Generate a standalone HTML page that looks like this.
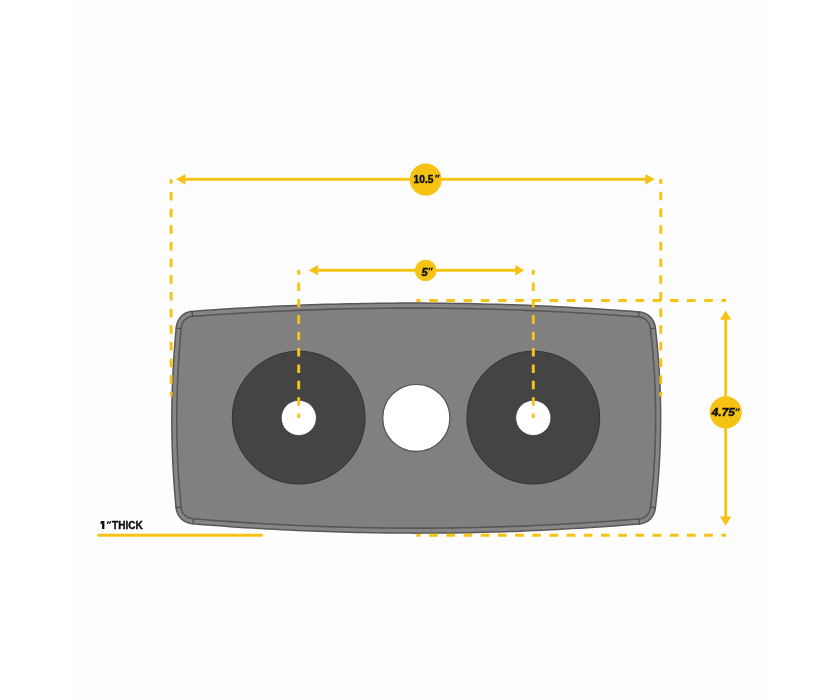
<!DOCTYPE html>
<html><head><meta charset="utf-8">
<style>
html,body{margin:0;padding:0;background:#fff;}
body{width:835px;height:700px;overflow:hidden;position:relative;}
svg{position:absolute;left:0;top:0;}
text{font-family:"Liberation Sans",sans-serif;font-weight:bold;fill:#111;stroke:#111;stroke-width:0.45px;}
</style></head><body>
<svg width="835" height="700" viewBox="0 0 835 700">
<rect x="0" y="0" width="835" height="700" fill="#ffffff"/>
<rect x="70" y="0" width="696" height="700" fill="#fdfdfd"/>
<!-- shape -->
<path d="M192.05,311.40 L199.49,310.85 L206.94,310.31 L214.39,309.80 L221.84,309.30 L229.29,308.83 L236.74,308.37 L244.18,307.93 L251.63,307.51 L259.08,307.11 L266.53,306.73 L273.98,306.37 L281.43,306.03 L288.88,305.70 L296.32,305.40 L303.77,305.11 L311.22,304.84 L318.67,304.60 L326.12,304.37 L333.57,304.16 L341.01,303.97 L348.46,303.79 L355.91,303.64 L363.36,303.51 L370.81,303.39 L378.26,303.30 L385.71,303.22 L393.15,303.16 L400.60,303.12 L408.05,303.10 L415.50,303.10 L422.95,303.12 L430.40,303.15 L437.84,303.21 L445.29,303.29 L452.74,303.38 L460.19,303.49 L467.64,303.62 L475.09,303.77 L482.54,303.94 L489.98,304.13 L497.43,304.34 L504.88,304.57 L512.33,304.81 L519.78,305.08 L527.23,305.36 L534.67,305.66 L542.12,305.99 L549.57,306.33 L557.02,306.69 L564.47,307.07 L571.92,307.46 L579.37,307.88 L586.81,308.32 L594.26,308.77 L601.71,309.24 L609.16,309.74 L616.61,310.25 L624.06,310.78 L631.51,311.33 L638.95,311.90 L640.63,312.10 L642.24,312.43 L643.77,312.88 L645.23,313.45 L646.60,314.13 L647.89,314.93 L649.09,315.83 L650.20,316.84 L651.21,317.94 L652.13,319.13 L652.95,320.42 L653.66,321.79 L654.27,323.25 L654.76,324.78 L655.14,326.39 L655.40,328.08 L655.75,331.07 L656.08,334.06 L656.40,337.06 L656.71,340.06 L657.01,343.06 L657.29,346.05 L657.57,349.05 L657.83,352.05 L658.08,355.04 L658.32,358.04 L658.55,361.04 L658.76,364.03 L658.97,367.03 L659.16,370.03 L659.34,373.02 L659.51,376.02 L659.66,379.01 L659.81,382.01 L659.94,385.01 L660.07,388.00 L660.18,391.00 L660.28,393.99 L660.36,396.99 L660.44,399.98 L660.50,402.98 L660.56,405.97 L660.60,408.97 L660.63,411.96 L660.64,414.96 L660.65,417.95 L660.64,420.94 L660.63,423.94 L660.60,426.93 L660.56,429.93 L660.50,432.92 L660.44,435.91 L660.36,438.91 L660.28,441.90 L660.18,444.89 L660.07,447.89 L659.94,450.88 L659.81,453.87 L659.66,456.87 L659.51,459.86 L659.34,462.85 L659.16,465.85 L658.97,468.84 L658.76,471.83 L658.55,474.82 L658.32,477.81 L658.08,480.81 L657.83,483.80 L657.57,486.79 L657.29,489.78 L657.01,492.77 L656.71,495.77 L656.40,498.76 L656.08,501.75 L655.75,504.74 L655.40,507.72 L655.15,509.39 L654.78,510.98 L654.31,512.50 L653.72,513.95 L653.04,515.32 L652.25,516.60 L651.37,517.80 L650.39,518.91 L649.32,519.92 L648.16,520.82 L646.91,521.63 L645.58,522.32 L644.17,522.90 L642.67,523.36 L641.10,523.70 L639.45,523.90 L632.00,524.51 L624.55,525.09 L617.11,525.66 L609.66,526.20 L602.21,526.73 L594.77,527.23 L587.32,527.71 L579.87,528.17 L572.43,528.62 L564.98,529.04 L557.54,529.44 L550.09,529.82 L542.65,530.18 L535.20,530.51 L527.76,530.83 L520.31,531.13 L512.87,531.41 L505.43,531.66 L497.98,531.90 L490.54,532.11 L483.10,532.31 L475.65,532.48 L468.21,532.63 L460.77,532.76 L453.33,532.88 L445.89,532.97 L438.45,533.04 L431.01,533.09 L423.57,533.12 L416.13,533.13 L408.69,533.11 L401.25,533.08 L393.81,533.03 L386.37,532.95 L378.93,532.86 L371.49,532.74 L364.05,532.61 L356.61,532.45 L349.18,532.28 L341.74,532.08 L334.30,531.86 L326.87,531.62 L319.43,531.36 L311.99,531.08 L304.56,530.78 L297.12,530.46 L289.69,530.12 L282.25,529.76 L274.82,529.37 L267.38,528.97 L259.95,528.55 L252.51,528.10 L245.08,527.64 L237.64,527.15 L230.21,526.64 L222.78,526.12 L215.35,525.57 L207.91,525.00 L200.48,524.41 L193.05,523.80 L191.34,523.59 L189.69,523.27 L188.12,522.82 L186.61,522.26 L185.19,521.58 L183.85,520.80 L182.60,519.91 L181.44,518.93 L180.38,517.84 L179.42,516.66 L178.57,515.39 L177.83,514.03 L177.21,512.58 L176.71,511.05 L176.34,509.44 L176.10,507.73 L175.82,504.82 L175.54,501.89 L175.28,498.96 L175.03,496.02 L174.78,493.09 L174.55,490.15 L174.33,487.21 L174.11,484.27 L173.91,481.32 L173.71,478.38 L173.53,475.43 L173.35,472.48 L173.18,469.52 L173.03,466.57 L172.88,463.61 L172.74,460.65 L172.61,457.68 L172.50,454.72 L172.39,451.75 L172.29,448.78 L172.20,445.81 L172.12,442.83 L172.05,439.86 L171.99,436.88 L171.94,433.89 L171.90,430.91 L171.86,427.92 L171.84,424.94 L171.83,421.94 L171.82,418.95 L171.83,415.95 L171.85,412.96 L171.87,409.96 L171.91,406.95 L171.95,403.95 L172.01,400.94 L172.07,397.93 L172.15,394.92 L172.23,391.90 L172.32,388.89 L172.42,385.87 L172.54,382.85 L172.66,379.82 L172.79,376.79 L172.93,373.77 L173.08,370.74 L173.24,367.70 L173.41,364.67 L173.59,361.63 L173.78,358.59 L173.98,355.55 L174.19,352.50 L174.40,349.45 L174.63,346.40 L174.87,343.35 L175.11,340.30 L175.37,337.24 L175.64,334.18 L175.91,331.12 L176.20,328.06 L176.42,326.37 L176.76,324.74 L177.21,323.18 L177.77,321.69 L178.44,320.28 L179.21,318.95 L180.08,317.71 L181.05,316.56 L182.12,315.51 L183.28,314.57 L184.53,313.73 L185.86,313.01 L187.28,312.41 L188.79,311.94 L190.38,311.60Z" fill="#868686" stroke="#575757" stroke-width="1.5"/>
<path d="M192.46,316.38 L199.86,315.83 L207.29,315.30 L214.73,314.79 L222.16,314.29 L229.60,313.82 L237.04,313.36 L244.47,312.92 L251.91,312.51 L259.34,312.11 L266.78,311.73 L274.21,311.36 L281.65,311.02 L289.09,310.70 L296.52,310.39 L303.96,310.11 L311.39,309.84 L318.83,309.59 L326.27,309.37 L333.70,309.16 L341.14,308.97 L348.57,308.79 L356.01,308.64 L363.44,308.51 L370.88,308.39 L378.32,308.30 L385.75,308.22 L393.19,308.16 L400.62,308.12 L408.06,308.10 L415.49,308.10 L422.93,308.12 L430.37,308.15 L437.80,308.21 L445.24,308.28 L452.67,308.38 L460.11,308.49 L467.54,308.62 L474.98,308.77 L482.42,308.94 L489.85,309.13 L497.29,309.34 L504.72,309.57 L512.16,309.81 L519.59,310.07 L527.03,310.36 L534.47,310.66 L541.90,310.98 L549.34,311.32 L556.77,311.68 L564.21,312.06 L571.64,312.46 L579.08,312.87 L586.52,313.31 L593.95,313.76 L601.39,314.23 L608.82,314.73 L616.26,315.24 L623.69,315.77 L631.13,316.32 L638.53,316.88 L639.84,317.03 L641.04,317.28 L642.15,317.61 L643.20,318.02 L644.17,318.50 L645.07,319.06 L645.90,319.69 L646.68,320.39 L647.39,321.16 L648.03,322.00 L648.62,322.92 L649.13,323.91 L649.58,324.98 L649.95,326.12 L650.24,327.35 L650.45,328.72 L650.78,331.63 L651.11,334.61 L651.43,337.58 L651.74,340.56 L652.03,343.54 L652.31,346.52 L652.59,349.50 L652.85,352.47 L653.10,355.45 L653.33,358.43 L653.56,361.41 L653.77,364.38 L653.98,367.36 L654.17,370.34 L654.35,373.31 L654.51,376.29 L654.67,379.27 L654.82,382.24 L654.95,385.22 L655.07,388.20 L655.18,391.17 L655.28,394.15 L655.37,397.12 L655.44,400.10 L655.51,403.07 L655.56,406.05 L655.60,409.02 L655.63,412.00 L655.64,414.98 L655.65,417.95 L655.64,420.92 L655.63,423.90 L655.60,426.87 L655.56,429.85 L655.51,432.82 L655.44,435.80 L655.37,438.77 L655.28,441.75 L655.18,444.72 L655.07,447.69 L654.95,450.67 L654.82,453.64 L654.67,456.61 L654.51,459.59 L654.35,462.56 L654.17,465.53 L653.98,468.51 L653.77,471.48 L653.56,474.45 L653.33,477.43 L653.10,480.40 L652.85,483.37 L652.59,486.34 L652.31,489.32 L652.03,492.29 L651.74,495.26 L651.43,498.23 L651.11,501.21 L650.78,504.18 L650.45,507.08 L650.24,508.45 L649.96,509.67 L649.60,510.82 L649.16,511.90 L648.66,512.89 L648.10,513.81 L647.48,514.66 L646.80,515.43 L646.06,516.13 L645.26,516.75 L644.40,517.30 L643.48,517.79 L642.49,518.19 L641.42,518.52 L640.27,518.77 L639.00,518.92 L631.60,519.52 L624.17,520.11 L616.74,520.67 L609.30,521.22 L601.87,521.74 L594.44,522.24 L587.00,522.72 L579.57,523.18 L572.14,523.62 L564.71,524.04 L557.27,524.44 L549.84,524.82 L542.41,525.18 L534.98,525.52 L527.55,525.84 L520.12,526.13 L512.69,526.41 L505.26,526.66 L497.83,526.90 L490.40,527.11 L482.97,527.31 L475.54,527.48 L468.12,527.63 L460.69,527.76 L453.26,527.88 L445.83,527.97 L438.41,528.04 L430.98,528.09 L423.55,528.12 L416.13,528.13 L408.70,528.11 L401.27,528.08 L393.85,528.03 L386.42,527.95 L379.00,527.86 L371.57,527.74 L364.15,527.61 L356.73,527.45 L349.30,527.28 L341.88,527.08 L334.46,526.86 L327.03,526.62 L319.61,526.37 L312.19,526.09 L304.77,525.79 L297.34,525.47 L289.92,525.12 L282.50,524.76 L275.08,524.38 L267.66,523.98 L260.24,523.55 L252.82,523.11 L245.40,522.65 L237.98,522.16 L230.56,521.66 L223.14,521.13 L215.72,520.58 L208.30,520.02 L200.88,519.43 L193.50,518.82 L192.13,518.66 L190.87,518.40 L189.68,518.07 L188.56,517.65 L187.52,517.16 L186.55,516.59 L185.66,515.97 L184.85,515.27 L184.11,514.52 L183.44,513.69 L182.85,512.81 L182.33,511.85 L181.89,510.82 L181.53,509.72 L181.25,508.53 L181.06,507.17 L180.79,504.34 L180.52,501.43 L180.26,498.52 L180.01,495.60 L179.77,492.68 L179.54,489.76 L179.31,486.84 L179.10,483.91 L178.90,480.99 L178.70,478.06 L178.52,475.12 L178.34,472.19 L178.18,469.25 L178.02,466.31 L177.87,463.37 L177.74,460.42 L177.61,457.48 L177.49,454.53 L177.38,451.58 L177.29,448.62 L177.20,445.67 L177.12,442.71 L177.05,439.75 L176.99,436.78 L176.94,433.82 L176.89,430.85 L176.86,427.88 L176.84,424.91 L176.83,421.93 L176.82,418.95 L176.83,415.97 L176.85,412.99 L176.87,410.01 L176.91,407.02 L176.95,404.03 L177.01,401.04 L177.07,398.04 L177.14,395.05 L177.23,392.05 L177.32,389.05 L177.42,386.04 L177.53,383.04 L177.65,380.03 L177.78,377.02 L177.92,374.01 L178.07,370.99 L178.23,367.97 L178.40,364.95 L178.58,361.93 L178.77,358.91 L178.97,355.88 L179.17,352.85 L179.39,349.82 L179.62,346.78 L179.85,343.75 L180.10,340.71 L180.35,337.67 L180.62,334.62 L180.89,331.58 L181.17,328.59 L181.35,327.20 L181.61,325.95 L181.95,324.76 L182.37,323.64 L182.86,322.61 L183.42,321.64 L184.04,320.76 L184.72,319.96 L185.46,319.23 L186.25,318.58 L187.10,318.01 L188.02,317.52 L189.00,317.11 L190.06,316.77 L191.20,316.53Z" fill="#808080" stroke="#575757" stroke-width="1.6"/>
<g stroke="#4d4d4d" stroke-width="1.2"><line x1="192.00" y1="310.80" x2="192.46" y2="316.38"/><line x1="639.00" y1="311.30" x2="638.53" y2="316.88"/><line x1="656.00" y1="328.00" x2="650.45" y2="328.72"/><line x1="656.00" y1="507.80" x2="650.45" y2="507.08"/><line x1="639.50" y1="524.50" x2="639.00" y2="518.92"/><line x1="193.00" y1="524.40" x2="193.50" y2="518.82"/><line x1="175.50" y1="507.80" x2="181.06" y2="507.17"/><line x1="175.60" y1="328.00" x2="181.17" y2="328.59"/></g>
<!-- circles -->
<circle cx="298.7" cy="417.6" r="66.4" fill="#444444" stroke="#333" stroke-width="1"/>
<circle cx="533.3" cy="417.6" r="66.4" fill="#444444" stroke="#333" stroke-width="1"/>
<circle cx="298.8" cy="417.9" r="17.6" fill="#ffffff" stroke="#3a3a3a" stroke-width="0.8"/>
<circle cx="533.3" cy="417.9" r="17.6" fill="#ffffff" stroke="#3a3a3a" stroke-width="0.8"/>
<circle cx="416.3" cy="417.9" r="33.6" fill="#ffffff" stroke="#555555" stroke-width="1.3"/>
<!-- dashed lines -->
<g stroke="#f6c214" stroke-width="2.9" fill="none" stroke-dasharray="8.5 8.17">
<path d="M171.1,179.3 V396.6" stroke-dashoffset="4"/>
<path d="M660.8,179.0 V396.6" stroke-dashoffset="3.8"/>
<path d="M298.7,270 V418.1" stroke-dashoffset="3.8" stroke-dasharray="8.5 7.875"/>
<path d="M533.3,270 V418.1" stroke-dashoffset="3.8" stroke-dasharray="8.5 7.875"/>
</g>
<g stroke="#f6c214" stroke-width="2.9" fill="none" stroke-dasharray="8.6 8.59">
<path d="M416.3,300.5 H726" stroke-dashoffset="4.3"/>
<path d="M416.3,535.3 H726" stroke-dashoffset="4.3"/>
</g>
<!-- arrows -->
<g fill="#f6c214">
<rect x="184" y="177.85" width="463" height="2.9"/>
<path d="M176,179.3 L185.5,173.9 L185.5,184.7Z"/>
<path d="M654.8,179.3 L645.4,173.9 L645.4,184.7Z"/>
<circle cx="425.7" cy="179.6" r="16"/>
<rect x="316" y="268.85" width="201" height="2.9"/>
<path d="M308.7,270.3 L318.1,265.0 L318.1,275.6Z"/>
<path d="M524.3,270.3 L515.3,265.0 L515.3,275.6Z"/>
<circle cx="425.7" cy="270.4" r="10.7"/>
<rect x="724.25" y="318" width="2.9" height="200"/>
<path d="M725.7,310.4 L720.0,319.7 L731.3,319.7Z"/>
<path d="M725.7,525.7 L720.0,516.4 L731.3,516.4Z"/>
<circle cx="725.7" cy="412.3" r="16.1"/>
</g>
<line x1="98.7" y1="535.3" x2="261.5" y2="535.3" stroke="#f6c214" stroke-width="3" stroke-linecap="round"/>

</svg>
<svg width="835" height="700" viewBox="0 0 835 700" style="will-change:transform">
<!-- labels -->
<g>
<text x="413.6" y="182.9" font-size="10.7" textLength="19.9" lengthAdjust="spacingAndGlyphs">10.5</text>
<text x="421.4" y="275.8" font-size="11.2" font-style="italic" textLength="6.2" lengthAdjust="spacingAndGlyphs">5</text>
<text x="711.8" y="416.0" font-size="10.8" font-style="italic" textLength="23.0" lengthAdjust="spacingAndGlyphs">4.75</text>
<path d="M101.2,521.0 L104.4,521.0 L104.4,529.0 L102.0,529.0 L102.0,523.6 L100.7,524.3 L100.3,522.5Z" fill="#111"/>
<text x="112.0" y="529.0" font-size="11.2" textLength="30.8" lengthAdjust="spacingAndGlyphs">THICK</text>
<g fill="#111" stroke="none"><path d="M435.70,174.80 L437.50,174.80 L436.10,177.70 L435.00,177.70Z"/><path d="M438.00,174.80 L439.80,174.80 L438.40,177.70 L437.30,177.70Z"/><path d="M429.00,267.70 L430.80,267.70 L429.40,270.60 L428.30,270.60Z"/><path d="M431.30,267.70 L433.10,267.70 L431.70,270.60 L430.60,270.60Z"/><path d="M736.00,408.40 L737.80,408.40 L736.40,411.30 L735.30,411.30Z"/><path d="M738.30,408.40 L740.10,408.40 L738.70,411.30 L737.60,411.30Z"/><path d="M107.40,521.20 L109.20,521.20 L107.80,524.10 L106.70,524.10Z"/><path d="M109.70,521.20 L111.50,521.20 L110.10,524.10 L109.00,524.10Z"/></g>
</g>
</svg>
</body></html>
